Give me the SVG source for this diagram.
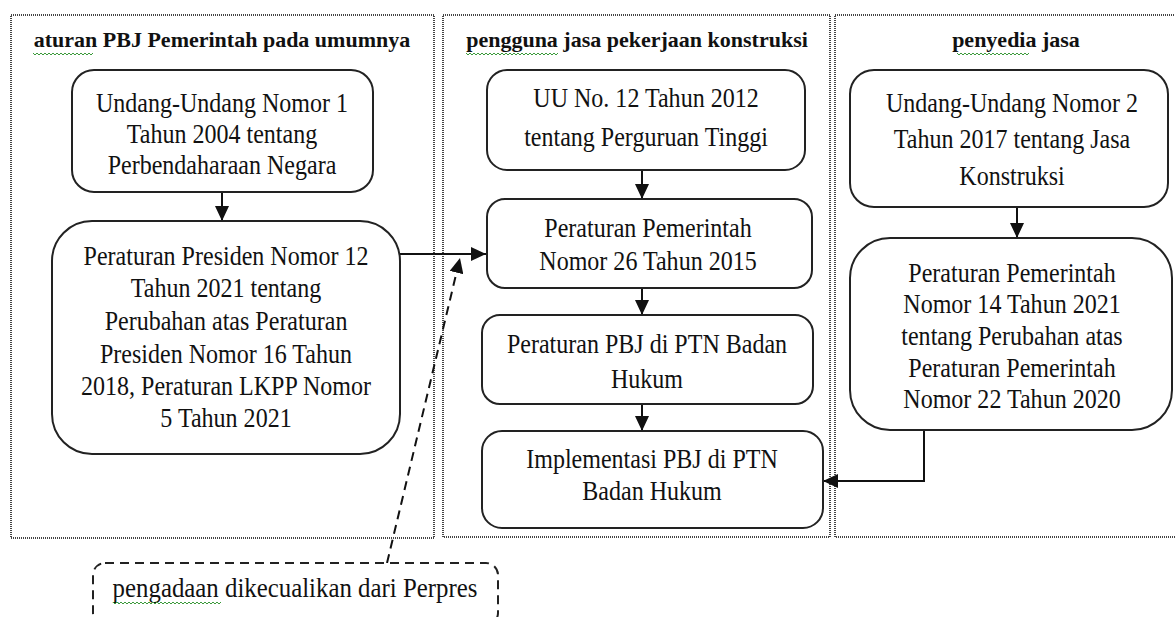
<svg xmlns="http://www.w3.org/2000/svg" width="1175" height="617" viewBox="0 0 1175 617">
<style>
.panel{fill:none;stroke:#444;stroke-width:2;stroke-dasharray:1 1}
.node{fill:#fff;stroke:#222;stroke-width:2}
.dnode{fill:#fff;stroke:#222;stroke-width:2;stroke-dasharray:9 6}
.t{font-family:"Liberation Serif","Times New Roman",serif;font-size:27px;fill:#111;text-anchor:middle}
.h{font-family:"Liberation Serif","Times New Roman",serif;font-size:22px;font-weight:bold;fill:#111;text-anchor:middle}
.c{fill:none;stroke:#111;stroke-width:2}
.cd{fill:none;stroke:#111;stroke-width:2;stroke-dasharray:9 6}
.sq{fill:none;stroke:#3a9a3a;stroke-width:1}
</style>
<defs>
<marker id="ah" markerUnits="userSpaceOnUse" markerWidth="16" markerHeight="14" refX="15" refY="7" orient="auto">
<path d="M0,0 L15,7 L0,14 Z" fill="#111"/>
</marker>
</defs>
<rect width="1175" height="617" fill="#fff"/>
<g id="panels">
<rect class="panel" x="11" y="15" width="423" height="523"/>
<rect class="panel" x="443" y="15" width="387" height="522"/>
<rect class="panel" x="835" y="15" width="345" height="522"/>
<text class="h" x="222" y="47">aturan PBJ Pemerintah pada umumnya</text>
<text class="h" x="637" y="47">pengguna jasa pekerjaan konstruksi</text>
<text class="h" x="1016" y="47">penyedia jasa</text>
<path class="sq" d="M33,53 l2,2 l2,-2 l2,2 l2,-2 l2,2 l2,-2 l2,2 l2,-2 l2,2 l2,-2 l2,2 l2,-2 l2,2 l2,-2 l2,2 l2,-2 l2,2 l2,-2 l2,2 l2,-2 l2,2 l2,-2 l2,2 l2,-2 l2,2 l2,-2 l2,2 l2,-2 l2,2 l2,-2"/>
<path class="sq" d="M466,53 l2,2 l2,-2 l2,2 l2,-2 l2,2 l2,-2 l2,2 l2,-2 l2,2 l2,-2 l2,2 l2,-2 l2,2 l2,-2 l2,2 l2,-2 l2,2 l2,-2 l2,2 l2,-2 l2,2 l2,-2 l2,2 l2,-2 l2,2 l2,-2 l2,2 l2,-2 l2,2 l2,-2 l2,2 l2,-2 l2,2 l2,-2 l2,2 l2,-2 l2,2 l2,-2 l2,2 l2,-2 l2,2 l2,-2 l2,2 l2,-2 l2,2 l2,-2"/>
<path class="sq" d="M957,53 l2,2 l2,-2 l2,2 l2,-2 l2,2 l2,-2 l2,2 l2,-2 l2,2 l2,-2 l2,2 l2,-2 l2,2 l2,-2 l2,2 l2,-2 l2,2 l2,-2 l2,2 l2,-2 l2,2 l2,-2 l2,2 l2,-2 l2,2 l2,-2 l2,2 l2,-2 l2,2 l2,-2 l2,2 l2,-2 l2,2 l2,-2 l2,2 l2,-2"/>
</g>
<g id="connectors">
<line class="c" x1="222" y1="192" x2="222" y2="221" marker-end="url(#ah)"/>
<line class="c" x1="400" y1="254" x2="486" y2="254" marker-end="url(#ah)"/>
<line class="cd" x1="387" y1="563" x2="460" y2="258" marker-end="url(#ah)"/>
<line class="c" x1="642" y1="170" x2="642" y2="199" marker-end="url(#ah)"/>
<line class="c" x1="642" y1="288" x2="642" y2="315" marker-end="url(#ah)"/>
<line class="c" x1="642" y1="404" x2="642" y2="431" marker-end="url(#ah)"/>
<line class="c" x1="1017" y1="207" x2="1017" y2="238" marker-end="url(#ah)"/>
<path class="c" d="M924,430 V481 H823" marker-end="url(#ah)"/>
</g>
<g id="node-uu1">
<rect class="node" x="72" y="70" width="301" height="122" rx="22"/>
<g transform="translate(222 0) scale(0.89 1)">
<text class="t" x="0" y="112">Undang-Undang Nomor 1</text>
<text class="t" x="0" y="143">Tahun 2004 tentang</text>
<text class="t" x="0" y="174">Perbendaharaan Negara</text>
</g>
</g>
<g id="node-perpres">
<rect class="node" x="52" y="221" width="348" height="233" rx="40"/>
<g transform="translate(226 0) scale(0.89 1)">
<text class="t" x="0" y="265">Peraturan Presiden Nomor 12</text>
<text class="t" x="0" y="297">Tahun 2021 tentang</text>
<text class="t" x="0" y="330">Perubahan atas Peraturan</text>
<text class="t" x="0" y="363">Presiden Nomor 16 Tahun</text>
<text class="t" x="0" y="395">2018, Peraturan LKPP Nomor</text>
<text class="t" x="0" y="427">5 Tahun 2021</text>
</g>
</g>
<g id="node-uu12">
<rect class="node" x="487" y="70" width="318" height="100" rx="20"/>
<g transform="translate(646 0) scale(0.89 1)">
<text class="t" x="0" y="107">UU No. 12 Tahun 2012</text>
<text class="t" x="0" y="146">tentang Perguruan Tinggi</text>
</g>
</g>
<g id="node-pp26">
<rect class="node" x="487" y="199" width="325" height="89" rx="18"/>
<g transform="translate(648 0) scale(0.89 1)">
<text class="t" x="0" y="237">Peraturan Pemerintah</text>
<text class="t" x="0" y="270">Nomor 26 Tahun 2015</text>
</g>
</g>
<g id="node-pbj">
<rect class="node" x="482" y="315" width="331" height="89" rx="18"/>
<g transform="translate(647 0) scale(0.89 1)">
<text class="t" x="0" y="353">Peraturan PBJ di PTN Badan</text>
<text class="t" x="0" y="388">Hukum</text>
</g>
</g>
<g id="node-impl">
<rect class="node" x="482" y="431" width="341" height="97" rx="20"/>
<g transform="translate(652 0) scale(0.89 1)">
<text class="t" x="0" y="468">Implementasi PBJ di PTN</text>
<text class="t" x="0" y="500">Badan Hukum</text>
</g>
</g>
<g id="node-uu2">
<rect class="node" x="850" y="70" width="318" height="137" rx="24"/>
<g transform="translate(1012 0) scale(0.89 1)">
<text class="t" x="0" y="112">Undang-Undang Nomor 2</text>
<text class="t" x="0" y="148">Tahun 2017 tentang Jasa</text>
<text class="t" x="0" y="185">Konstruksi</text>
</g>
</g>
<g id="node-pp14">
<rect class="node" x="850" y="238" width="322" height="192" rx="40"/>
<g transform="translate(1012 0) scale(0.89 1)">
<text class="t" x="0" y="282">Peraturan Pemerintah</text>
<text class="t" x="0" y="313">Nomor 14 Tahun 2021</text>
<text class="t" x="0" y="345">tentang Perubahan atas</text>
<text class="t" x="0" y="377">Peraturan Pemerintah</text>
<text class="t" x="0" y="408">Nomor 22 Tahun 2020</text>
</g>
</g>
<g id="node-note">
<rect class="dnode" x="93" y="563" width="405" height="62" rx="12"/>
<g transform="translate(295 0) scale(0.92 1)">
<text class="t" x="0" y="597">pengadaan dikecualikan dari Perpres</text>
</g>
<path class="sq" d="M113,602 l2,2 l2,-2 l2,2 l2,-2 l2,2 l2,-2 l2,2 l2,-2 l2,2 l2,-2 l2,2 l2,-2 l2,2 l2,-2 l2,2 l2,-2 l2,2 l2,-2 l2,2 l2,-2 l2,2 l2,-2 l2,2 l2,-2 l2,2 l2,-2 l2,2 l2,-2 l2,2 l2,-2 l2,2 l2,-2 l2,2 l2,-2 l2,2 l2,-2 l2,2 l2,-2 l2,2 l2,-2 l2,2 l2,-2 l2,2 l2,-2 l2,2 l2,-2 l2,2 l2,-2 l2,2 l2,-2 l2,2 l2,-2 l2,2 l2,-2"/>
</g>
</svg>
